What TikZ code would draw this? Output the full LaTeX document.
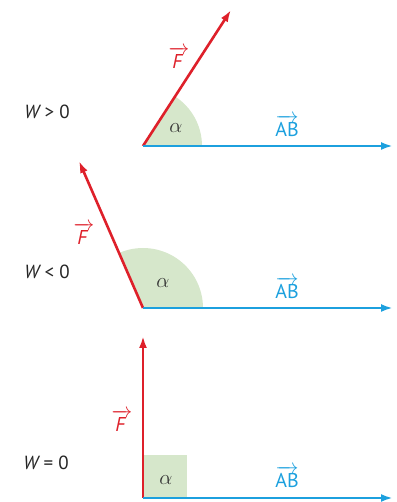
\documentclass[tikz,border=0pt]{standalone}
\usepackage{fontspec}
\setsansfont{PT Sans}
\usepackage{amsmath}
\usetikzlibrary{arrows.meta}
\definecolor{fred}{RGB}{222,32,42}
\definecolor{abblue}{RGB}{28,160,222}
\definecolor{agreen}{RGB}{214,231,203}
\tikzset{
  fvec/.style={draw=fred,line width=2.6pt,-{Latex[length=12pt,width=8pt]}},
  abvec/.style={draw=abblue,line width=2.6pt,-{Latex[length=12pt,width=8pt]}},
  flab/.style={text=fred,font=\sffamily\fontsize{20}{24}\selectfont,inner sep=0pt},
  ablab/.style={text=abblue,font=\sffamily\fontsize{20}{24}\selectfont,inner sep=0pt},
  wlab/.style={text=black!85,font=\sffamily\fontsize{19}{22}\selectfont,inner sep=0pt},
  alab/.style={text=black!80,font=\fontsize{21}{24}\selectfont,inner sep=0pt},
  sector/.style={fill=agreen}
}
\begin{document}
\begin{tikzpicture}[x=1pt,y=1pt]
\useasboundingbox (0,0) rectangle (396,502);
% panel 1
\coordinate (O1) at (143,356);
\coordinate (F1) at (231,492);
\coordinate (B1) at (393,356);
\fill[sector] (O1) -- ++(0:59) arc[start angle=0,end angle=57,radius=59] -- cycle;
\draw[fvec] (O1) -- (F1);
\draw[abvec] (O1) -- (B1);
\node[wlab] (w1) at (47,390) {\itshape W\upshape\;>\;0};
\node[flab] (f1) at (179,444) {$\overrightarrow{\textit{F}\,}$};
\node[alab] (a1) at (176,374) {$\alpha$};
\node[ablab] (ab1) at (287,376) {$\overrightarrow{\text{AB}}$};
% panel 2
\coordinate (O2) at (143,194);
\coordinate (F2) at (79,341);
\coordinate (B2) at (393,194);
\fill[sector] (O2) -- ++(0:60) arc[start angle=0,end angle=113.5,radius=60] -- cycle;
\draw[fvec] (O2) -- (F2);
\draw[abvec] (O2) -- (B2);
\node[wlab] (w2) at (47,230) {\itshape W\upshape\;<\;0};
\node[flab] (f2) at (84,268) {$\overrightarrow{\textit{F}\,}$};
\node[alab] (a2) at (163,219) {$\alpha$};
\node[ablab] (ab2) at (287,214) {$\overrightarrow{\text{AB}}$};
% panel 3
\coordinate (O3) at (143,4);
\coordinate (F3) at (143,166);
\coordinate (B3) at (393,4);
\fill[sector] (O3) rectangle ++(44,43);
\draw[fvec] (O3) -- (F3);
\draw[abvec] (O3) -- (B3);
\node[wlab] (w3) at (46,39) {\itshape W\upshape\;=\;0};
\node[flab] (f3) at (122,81) {$\overrightarrow{\textit{F}\,}$};
\node[alab] (a3) at (166,22) {$\alpha$};
\node[ablab] (ab3) at (287,25) {$\overrightarrow{\text{AB}}$};
\end{tikzpicture}
\end{document}
